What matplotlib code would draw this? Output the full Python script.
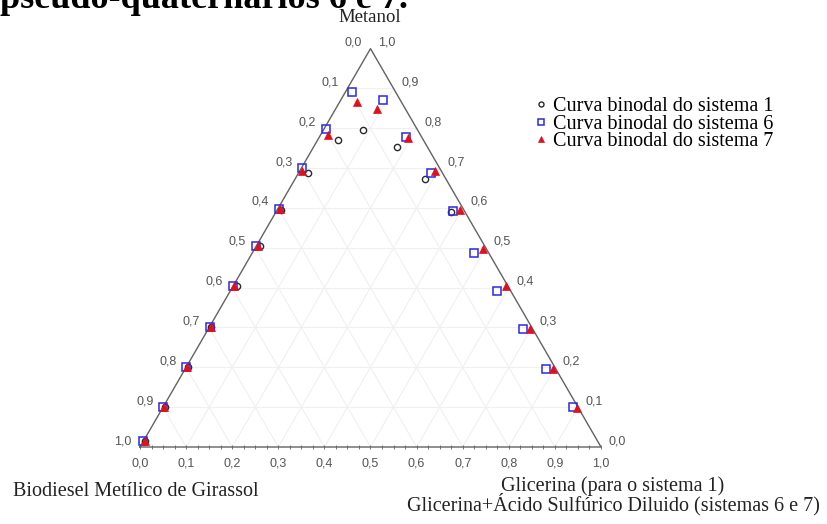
import numpy as np
import matplotlib.pyplot as plt

# frações: (metanol, glicerina); biodiesel = 1 - metanol - glicerina
s1_metanol = [0.015, 0.101, 0.201, 0.302, 0.404, 0.505, 0.596, 0.687, 0.771, 0.796, 0.753, 0.673, 0.590]
s1_glicerina = [0.003, 0.003, 0.003, 0.004, 0.008, 0.008, 0.008, 0.021, 0.044, 0.085, 0.181, 0.282, 0.380]

s6_metanol = [0.015, 0.101, 0.201, 0.302, 0.404, 0.505, 0.598, 0.701, 0.799, 0.890,
              0.871, 0.778, 0.689, 0.592, 0.487, 0.392, 0.295, 0.197, 0.100]
s6_glicerina = [0.000, 0.000, 0.000, 0.000, 0.000, 0.000, 0.003, 0.000, 0.004, 0.014,
                0.092, 0.188, 0.287, 0.384, 0.481, 0.579, 0.684, 0.782, 0.889]

s7_metanol = [0.015, 0.101, 0.201, 0.302, 0.404, 0.505, 0.598, 0.694, 0.782, 0.865,
              0.849, 0.776, 0.692, 0.594, 0.498, 0.404, 0.296, 0.197, 0.097]
s7_glicerina = [0.003, 0.002, 0.002, 0.002, 0.002, 0.003, 0.004, 0.004, 0.017, 0.039,
                0.089, 0.194, 0.294, 0.397, 0.496, 0.592, 0.697, 0.798, 0.900]

labels = ['Curva binodal do sistema 1', 'Curva binodal do sistema 6', 'Curva binodal do sistema 7']
ticks = np.round(np.arange(0, 1.01, 0.1), 1)

H = np.sqrt(3) / 2


def to_xy(metanol, glicerina):
    m = np.asarray(metanol, dtype=float)
    g = np.asarray(glicerina, dtype=float)
    return g + m / 2, m * H


def fmt(t):
    return f'{t:.1f}'.replace('.', ',')


fig = plt.figure(figsize=(8.28, 5.24), dpi=100)
ax = fig.add_axes([0, 0, 1, 1])
ax.set_xlim(-140 / 461, (828 - 140) / 461)
ax.set_ylim(-77 / 460, (524 - 77) / 460)
ax.axis('off')

# grade
gc = '#f0f0f0'
for t in ticks[1:-1]:
    x0, y0 = to_xy([t, t], [0, 1 - t])
    ax.plot(x0, y0, color=gc, lw=0.8, zorder=1)
    x1, y1 = to_xy([0, 1 - t], [t, t])
    ax.plot(x1, y1, color=gc, lw=0.8, zorder=1)
    x2, y2 = to_xy([0, 1 - t], [1 - t, 0])
    ax.plot(x2, y2, color=gc, lw=0.8, zorder=1)

# bordas do triângulo
bx, by = to_xy([0, 0, 1, 0], [0, 1, 0, 0])
ax.plot(bx, by, color='#626262', lw=1.0, zorder=2)

# marcas no eixo inferior
mt = np.arange(0, 1.001, 0.025)
ax.plot(mt, np.zeros_like(mt), ls='none', marker='|', ms=3, mew=0.6, color='#626262', zorder=2)

tick_kw = dict(textcoords='offset pixels', fontsize=9, color='#555555', family='Liberation Sans')
for t in ticks:
    # esquerda: biodiesel
    x, y = to_xy([1 - t], [0])
    ax.annotate(fmt(t), (x[0], y[0]), xytext=(-9, 6), ha='right', va='center', **tick_kw)
    # direita: metanol
    x, y = to_xy([t], [1 - t])
    ax.annotate(fmt(t), (x[0], y[0]), xytext=(8, 6), ha='left', va='center', **tick_kw)
    # base: glicerina
    x, y = to_xy([0], [t])
    ax.annotate(fmt(t), (x[0], y[0]), xytext=(0, -17), ha='center', va='center', **tick_kw)

x1, y1 = to_xy(s1_metanol, s1_glicerina)
x6, y6 = to_xy(s6_metanol, s6_glicerina)
x7, y7 = to_xy(s7_metanol, s7_glicerina)
ax.plot(x1, y1, ls='none', marker='o', ms=4.5, mfc='none', mec='#2a2a2a', mew=1.0, label=labels[0], zorder=3)
ax.plot(x6, y6, ls='none', marker='s', ms=6, mfc='none', mec='#2a2ae0', mew=1.1, label=labels[1], zorder=4)
ax.plot(x7, y7, ls='none', marker='^', ms=6, mfc='#e0101e', mec='#e0101e', mew=0.5, label=labels[2], zorder=5)

ax.legend(loc='upper left', bbox_to_anchor=(535 / 828, 1 - 97 / 524), bbox_transform=fig.transFigure,
          frameon=False, borderpad=0, borderaxespad=0, handlelength=0.6, handletextpad=0.3,
          labelspacing=-0.08, markerscale=0.8, prop={'family': 'Liberation Serif', 'size': 14.5})

serif = dict(family='Liberation Serif', color='#222222')
fig.text(370 / 828, 1 - 18 / 524, 'Metanol', ha='center', va='center', fontsize=13.5, **serif)
fig.text(13 / 828, 1 - 492 / 524, 'Biodiesel Metílico de Girassol', ha='left', va='center', fontsize=14.5, **serif)
fig.text(613 / 828, 1 - 496 / 524, 'Glicerina (para o sistema 1)\nGlicerina+Ácido Sulfúrico Diluido (sistemas 6 e 7)',
         ha='center', va='center', multialignment='center', linespacing=0.85, fontsize=14.5, **serif)

# título cortado no topo da imagem
fig.text(0.0, 1 - 8 / 524, 'pseudo-quaternários 6 e 7.', ha='left', va='baseline',
         family='Liberation Serif', fontweight='bold', fontsize=26, color='black')

fig.savefig('out.png', dpi=100)
